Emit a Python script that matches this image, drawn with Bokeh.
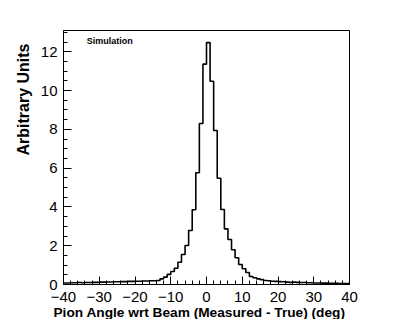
from bokeh.plotting import figure
from bokeh.models import FixedTicker, Title, Label, Range1d
from bokeh.embed import file_html
from bokeh.resources import INLINE

# Histogram: 80 bins of 1 degree from -40 to 40
bin_edges = list(range(-40, 41))
counts = [
    0.08, 0.08, 0.09, 0.09, 0.10, 0.09, 0.10, 0.10, 0.11, 0.11,   # -40 .. -31
    0.12, 0.12, 0.13, 0.13, 0.14, 0.14, 0.15, 0.15, 0.16, 0.16,   # -30 .. -21
    0.17, 0.17, 0.18, 0.18, 0.19, 0.19, 0.21, 0.29, 0.38, 0.52,   # -20 .. -11
    0.67, 0.84, 1.15, 1.55, 2.01, 2.78, 3.85, 5.76, 8.30, 11.36,  # -10 .. -1
    12.47, 10.48, 7.94, 5.48, 3.87, 2.87, 2.32, 1.79, 1.38, 1.03, # 0 .. 9
    0.81, 0.62, 0.41, 0.35, 0.29, 0.25, 0.21, 0.19, 0.17, 0.16,   # 10 .. 19
    0.15, 0.14, 0.12, 0.11, 0.12, 0.11, 0.10, 0.10, 0.09, 0.09,   # 20 .. 29
    0.08, 0.08, 0.07, 0.07, 0.06, 0.06, 0.06, 0.05, 0.05, 0.05,   # 30 .. 39
]
x_ticks = [-40, -30, -20, -10, 0, 10, 20, 30, 40]
x_minor = list(range(-40, 41, 2))
y_ticks = [0, 2, 4, 6, 8, 10, 12]
y_minor = [i * 0.5 for i in range(0, 27)]

x_title = "Pion Angle wrt Beam (Measured - True) (deg)"
y_title = "Arbitrary Units"
tag = "Simulation"

p = figure(frame_width=286, frame_height=254,
           x_range=Range1d(-40, 40), y_range=Range1d(0, max(counts) * 1.05),
           output_backend="svg", toolbar_location=None,
           min_border_left=63, min_border_right=50, min_border_top=30, min_border_bottom=35)
p.background_fill_color = "white"
p.border_fill_color = "white"
p.grid.visible = False
p.outline_line_color = "black"
p.outline_line_width = 1

p.step(x=bin_edges, y=counts + [counts[-1]], mode="after", line_color="black", line_width=1.6)

for ax, ticks, minor in ((p.xaxis[0], x_ticks, x_minor), (p.yaxis[0], y_ticks, y_minor)):
    ax.ticker = FixedTicker(ticks=ticks, minor_ticks=minor)
    ax.major_tick_in = 8
    ax.major_tick_out = 0
    ax.minor_tick_in = 4
    ax.minor_tick_out = 0
    ax.axis_line_color = "black"
    ax.major_tick_line_color = "black"
    ax.minor_tick_line_color = "black"
    ax.major_label_text_font = "Liberation Sans"
    ax.major_label_text_font_size = "15px"
    ax.major_label_text_color = "black"

p.xaxis.major_label_standoff = 7
p.yaxis.major_label_standoff = 6

p.add_layout(Title(text=x_title, align="right", text_font="Liberation Sans",
                   text_font_size="13.7px", text_font_style="bold", offset=4,
                   standoff=-4, text_color="black"), "below")
p.add_layout(Title(text=y_title, align="right", text_font="Liberation Sans",
                   text_font_size="16px", text_font_style="bold", offset=13,
                   standoff=12, text_color="black"), "left")

p.add_layout(Label(x=-33.5, y=12.3, text=tag, text_font="Liberation Sans",
                   text_font_size="9px", text_font_style="bold", text_color="black"))

open("out.html", "w").write(file_html(p, INLINE))
